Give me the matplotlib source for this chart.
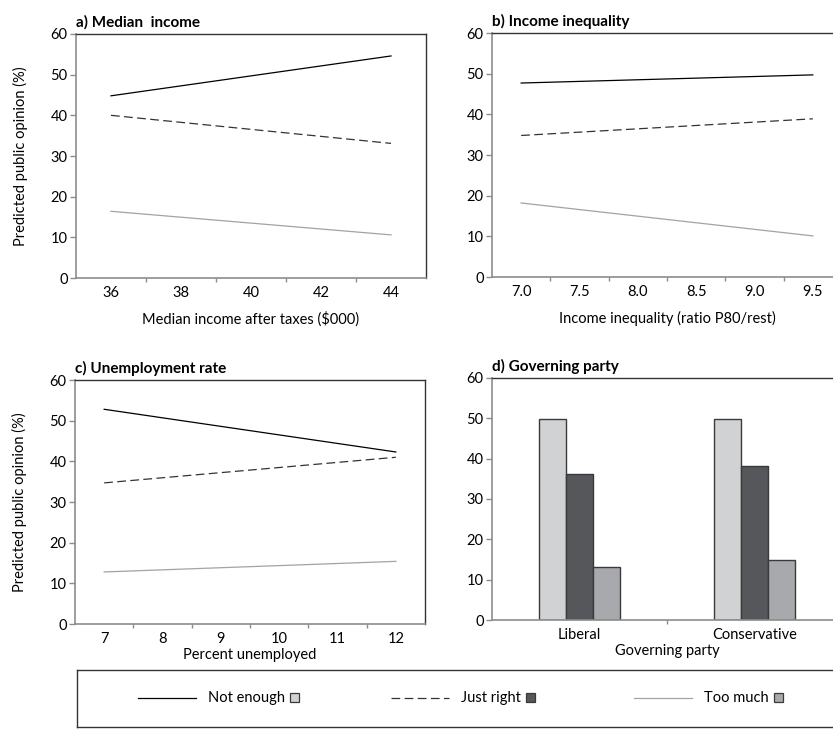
import matplotlib
matplotlib.use("Agg")
import matplotlib.pyplot as plt
from matplotlib.lines import Line2D
from matplotlib.patches import Rectangle

plt.rcParams['font.family'] = ['Lato', 'DejaVu Sans']
plt.rcParams['font.size'] = 10

# data
series = ["Not enough", "Just right", "Too much"]

income_x = [36, 44]
income_not_enough = [44.8, 54.6]
income_just_right = [40.0, 33.1]
income_too_much = [16.4, 10.6]

ineq_x = [7.0, 9.5]
ineq_not_enough = [47.7, 49.7]
ineq_just_right = [34.8, 38.9]
ineq_too_much = [18.2, 10.1]

unemp_x = [7, 12]
unemp_not_enough = [52.8, 42.3]
unemp_just_right = [34.7, 41.0]
unemp_too_much = [12.8, 15.4]

parties = ["Liberal", "Conservative"]
party_not_enough = [49.8, 49.8]
party_just_right = [36.3, 38.3]
party_too_much = [13.2, 14.8]

line_styles = [dict(color="black", ls="-"),
               dict(color="#333333", ls=(0, (7, 3.5))),
               dict(color="#a3a3a3", ls="-")]
bar_colors = ["#d1d2d4", "#55575a", "#a7a9ac"]
bar_edge = "#3a3a3a"
axis_grey = "#8c8c8c"
FS = 10.5

W, H = 833, 730
fig = plt.figure(figsize=(W / 100, H / 100), dpi=100)


def box(l, t, r, b):
    return [l / W, 1 - b / H, (r - l) / W, (b - t) / H]


def style(ax, ylabel=True):
    ax.set_ylim(0, 60)
    ax.set_yticks(range(0, 61, 10))
    for s in ("left", "bottom"):
        ax.spines[s].set_color(axis_grey)
        ax.spines[s].set_linewidth(1.2)
    for s in ("top", "right"):
        ax.spines[s].set_color("#333333")
        ax.spines[s].set_linewidth(1.0)
    ax.tick_params(axis="y", length=4, width=1, color=axis_grey, pad=2, labelsize=FS)
    ax.tick_params(axis="x", which="major", length=0, pad=6, labelsize=FS)
    ax.tick_params(axis="x", which="minor", length=3, width=1, color=axis_grey)
    if ylabel:
        ax.set_ylabel("Predicted public opinion (%)", fontsize=FS, labelpad=16)


def lines(ax, x, ys):
    for y, st in zip(ys, line_styles):
        ax.plot(x, y, lw=0.9, **st)


# a) median income
ax1 = fig.add_axes(box(76, 34, 426, 278))
lines(ax1, income_x, [income_not_enough, income_just_right, income_too_much])
ax1.set_xlim(35, 45)
ax1.set_xticks([36, 38, 40, 42, 44])
ax1.set_xticks([37, 39, 41, 43], minor=True)
style(ax1)
ax1.set_xlabel("Median income after taxes ($000)", fontsize=FS, labelpad=8)
ax1.set_title("a) Median  income", loc="left", fontweight="bold", fontsize=11, pad=5)

# b) income inequality
ax2 = fig.add_axes(box(492, 33, 842, 277))
lines(ax2, ineq_x, [ineq_not_enough, ineq_just_right, ineq_too_much])
ax2.set_xlim(6.75, 9.75)
ax2.set_xticks([7.0, 7.5, 8.0, 8.5, 9.0, 9.5])
ax2.set_xticklabels(["7.0", "7.5", "8.0", "8.5", "9.0", "9.5"])
ax2.set_xticks([7.25, 7.75, 8.25, 8.75, 9.25], minor=True)
style(ax2, ylabel=False)
ax2.set_xlabel("Income inequality (ratio P80/rest)", fontsize=FS, labelpad=8)
ax2.set_title("b) Income inequality", loc="left", fontweight="bold", fontsize=11, pad=5)

# c) unemployment
ax3 = fig.add_axes(box(75, 380, 425, 624))
lines(ax3, unemp_x, [unemp_not_enough, unemp_just_right, unemp_too_much])
ax3.set_xlim(6.5, 12.5)
ax3.set_xticks(range(7, 13))
ax3.set_xticks([7.5, 8.5, 9.5, 10.5, 11.5], minor=True)
style(ax3)
ax3.set_xlabel("Percent unemployed", fontsize=FS, labelpad=1)
ax3.set_title("c) Unemployment rate", loc="left", fontweight="bold", fontsize=11, pad=5)

# d) governing party
ax4 = fig.add_axes(box(492, 378, 842, 620))
bw = 0.155
for i, (vals, c) in enumerate(zip([party_not_enough, party_just_right, party_too_much], bar_colors)):
    ax4.bar([p + (i - 1) * bw for p in range(len(parties))], vals, width=bw,
            color=c, edgecolor=bar_edge, linewidth=1)
ax4.set_xlim(-0.5, 1.5)
ax4.set_xticks(range(len(parties)))
ax4.set_xticklabels(parties)
ax4.set_xticks([0.5], minor=True)
style(ax4, ylabel=False)
ax4.set_xlabel("Governing party", fontsize=FS, labelpad=1)
ax4.set_title("d) Governing party", loc="left", fontweight="bold", fontsize=11, pad=5)

# legend strip along the bottom
lg = fig.add_axes(box(77, 670, 842, 727))
lg.set_xlim(77, 842)
lg.set_ylim(727, 670)
lg.set_xticks([])
lg.set_yticks([])
for s in lg.spines.values():
    s.set_color("#333333")
    s.set_linewidth(1.0)
starts = [138, 391, 634]
fig.canvas.draw()
for x0, name, st, c in zip(starts, series, line_styles, bar_colors):
    lg.add_line(Line2D([x0, x0 + 58], [698, 698], lw=0.9, **st))
    t = lg.text(x0 + 70, 698, name, va="center", ha="left", fontsize=FS)
    bb = t.get_window_extent(renderer=fig.canvas.get_renderer()).transformed(lg.transData.inverted())
    lg.add_patch(Rectangle((bb.x1 + 5, 693), 9, 9, facecolor=c, edgecolor=bar_edge, lw=0.9))

fig.savefig("out.png", dpi=100)
